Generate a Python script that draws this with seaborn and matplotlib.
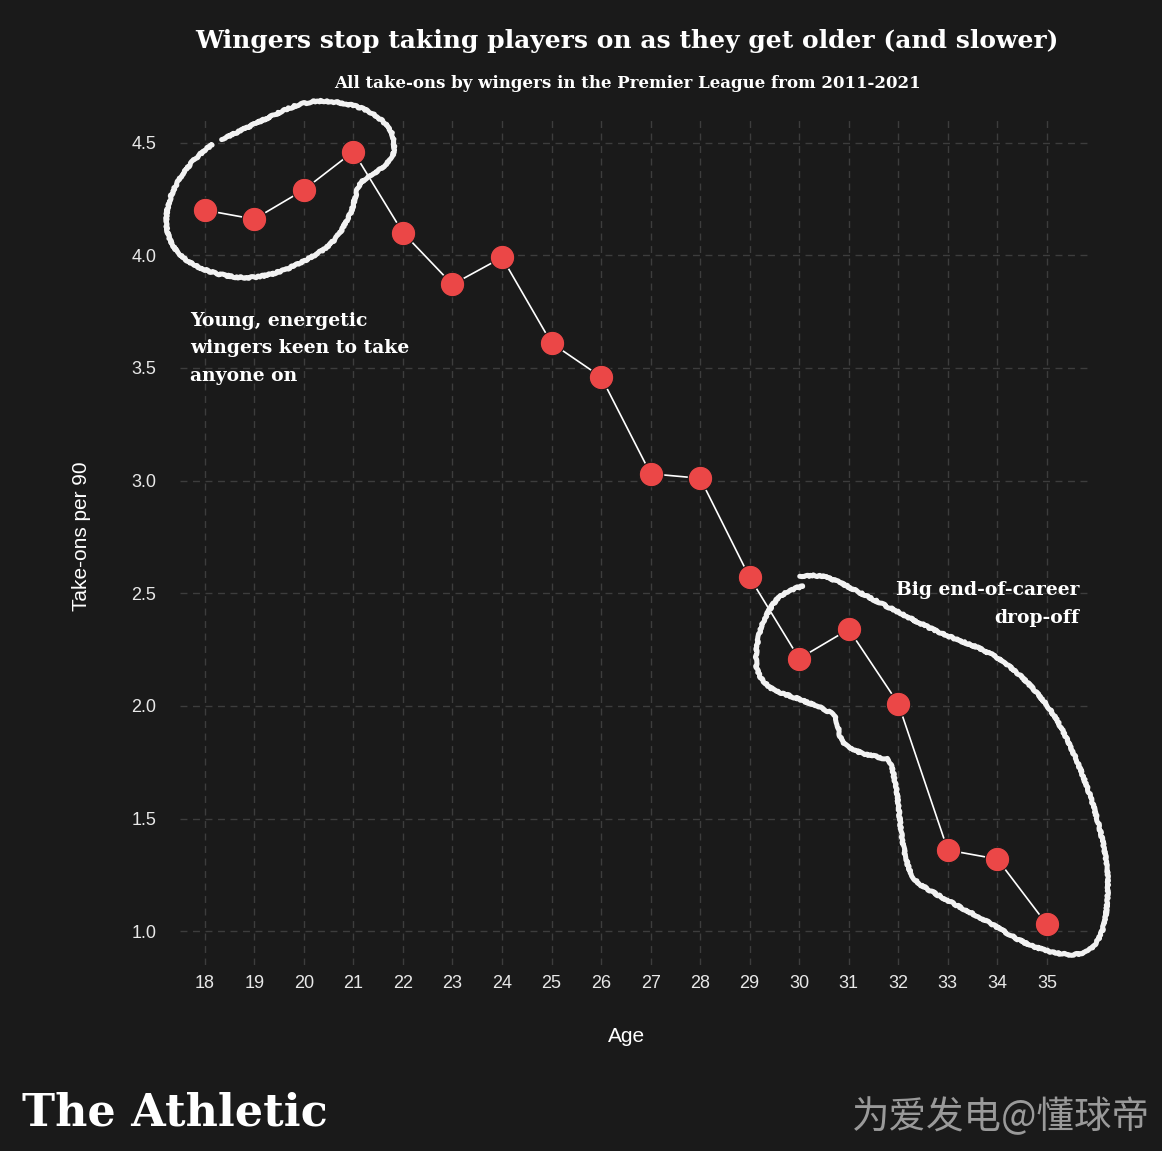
import numpy as np
import pandas as pd
import seaborn as sns
import matplotlib.pyplot as plt

# Take-ons per 90 by age
ages = [18, 19, 20, 21, 22, 23, 24, 25, 26, 27, 28, 29, 30, 31, 32, 33, 34, 35]
takeons = [4.20, 4.16, 4.29, 4.46, 4.10, 3.87, 3.99, 3.61, 3.46, 3.03, 3.01,
           2.57, 2.21, 2.34, 2.01, 1.36, 1.32, 1.03]
yticks = [1.0, 1.5, 2.0, 2.5, 3.0, 3.5, 4.0, 4.5]

# hand drawn loops (age, take-ons) around the two groups
loop_young_x = [18.34, 19.11, 19.92, 20.52, 21.23, 21.74, 21.80, 21.53, 21.13, 20.93,
                20.52, 19.72, 18.91, 18.10, 17.50, 17.23, 17.33, 17.70, 18.14]
loop_young_y = [4.513, 4.593, 4.669, 4.682, 4.646, 4.558, 4.447, 4.380, 4.314, 4.181,
                4.047, 3.945, 3.901, 3.928, 4.003, 4.123, 4.269, 4.402, 4.491]
loop_old_x = [30.01, 30.56, 31.37, 32.70, 34.05, 35.06, 35.73, 36.13, 36.23, 36.07,
              35.61, 34.72, 33.71, 32.70, 32.29, 32.09, 31.97, 31.83, 31.63, 31.22,
              30.88, 30.76, 30.62, 30.01, 29.47, 29.17, 29.14, 29.27, 29.55, 29.87, 30.07]
loop_old_y = [2.575, 2.570, 2.486, 2.339, 2.206, 1.984, 1.687, 1.394, 1.173, 0.977,
              0.898, 0.933, 1.053, 1.173, 1.244, 1.394, 1.616, 1.749, 1.771, 1.794,
              1.838, 1.927, 1.971, 2.029, 2.073, 2.149, 2.251, 2.370, 2.472, 2.517, 2.530]

df = pd.DataFrame({'age': ages, 'takeons': takeons})

bg = '#1a1a1a'
sns.set_theme(style='dark', rc={'figure.facecolor': bg, 'axes.facecolor': bg})
plt.rcParams['font.family'] = ['Liberation Sans', 'DejaVu Sans']


def smooth(xs, ys, n=20):
    # catmull-rom through the points (open curve)
    pts = np.column_stack([xs, ys])
    pts = np.vstack([pts[0], pts, pts[-1]])
    out = []
    t = np.linspace(0, 1, n, endpoint=False)[:, None]
    for i in range(1, len(pts) - 2):
        p0, p1, p2, p3 = pts[i - 1], pts[i], pts[i + 1], pts[i + 2]
        seg = 0.5 * ((2 * p1) + (-p0 + p2) * t + (2 * p0 - 5 * p1 + 4 * p2 - p3) * t ** 2
                     + (-p0 + 3 * p1 - 3 * p2 + p3) * t ** 3)
        out.append(seg)
    out.append(pts[-2][None, :])
    out = np.vstack(out)
    return out[:, 0], out[:, 1]


fig = plt.figure(figsize=(11.62, 11.51), dpi=100)
ax = fig.add_axes([180 / 1162, 1 - 965 / 1151, 910 / 1162, 845 / 1151])
ax.set_facecolor(bg)

sns.lineplot(data=df, x='age', y='takeons', color='white', linewidth=1.2, ax=ax, zorder=3)
sns.scatterplot(data=df, x='age', y='takeons', color='#eb4747', s=310,
                edgecolor=bg, linewidth=0.8, ax=ax, zorder=4)

for lx, ly in [(loop_young_x, loop_young_y), (loop_old_x, loop_old_y)]:
    sx, sy = smooth(lx, ly)
    ln, = ax.plot(sx, sy, color='#f2f2f2', linewidth=3.6, clip_on=False, zorder=5,
                  solid_capstyle='round')
    ln.set_sketch_params(scale=0.8, length=4, randomness=8)

ax.set_xlim(17.5, 35.87)
ax.set_ylim(0.85, 4.60)
ax.set_xticks(ages)
ax.set_yticks(yticks)
ax.set_yticklabels([f'{v:.1f}' for v in yticks])
ax.grid(True, color='#3d3d3d', linestyle=(0, (5, 4)), linewidth=1)
for s in ax.spines.values():
    s.set_visible(False)
ax.tick_params(colors='#e8e8e8', labelsize=13, length=0)
ax.tick_params(axis='x', pad=7)
ax.tick_params(axis='y', pad=17)
ax.set_xlabel('Age', color='white', fontsize=15)
ax.set_ylabel('Take-ons per 90', color='white', fontsize=15)
ax.xaxis.set_label_coords(0.491, -0.073)
ax.yaxis.set_label_coords(-0.098, 0.507)

ax.text(17.7, 3.75, 'Young, energetic\nwingers keen to take\nanyone on', color='white',
        fontsize=13.5, fontweight='bold', family='DejaVu Serif', va='top', ha='left',
        linespacing=1.7)
ax.text(35.65, 2.555, 'Big end-of-career\ndrop-off', color='white', fontsize=13.5,
        fontweight='bold', family='DejaVu Serif', va='top', ha='right', linespacing=1.7)

fig.text(627 / 1162, 1 - 41 / 1151, 'Wingers stop taking players on as they get older (and slower)',
         color='white', fontsize=18, fontweight='bold', family='DejaVu Serif',
         ha='center', va='center')
fig.text(627 / 1162, 1 - 84 / 1151, 'All take-ons by wingers in the Premier League from 2011-2021',
         color='white', fontsize=12, fontweight='bold', family='DejaVu Serif',
         ha='center', va='center')
fig.text(22 / 1162, 1 - 1113 / 1151, 'The Athletic', color='white', fontsize=32,
         fontweight='bold', family='DejaVu Serif', ha='left', va='center')
fig.text(1150 / 1162, 1 - 1118 / 1151, '为爱发电@懂球帝', color='#9a9a9a', fontsize=27,
         family=['Noto Sans CJK SC', 'DejaVu Sans'], ha='right', va='center')

plt.savefig('out.png', dpi=100, facecolor=bg)
